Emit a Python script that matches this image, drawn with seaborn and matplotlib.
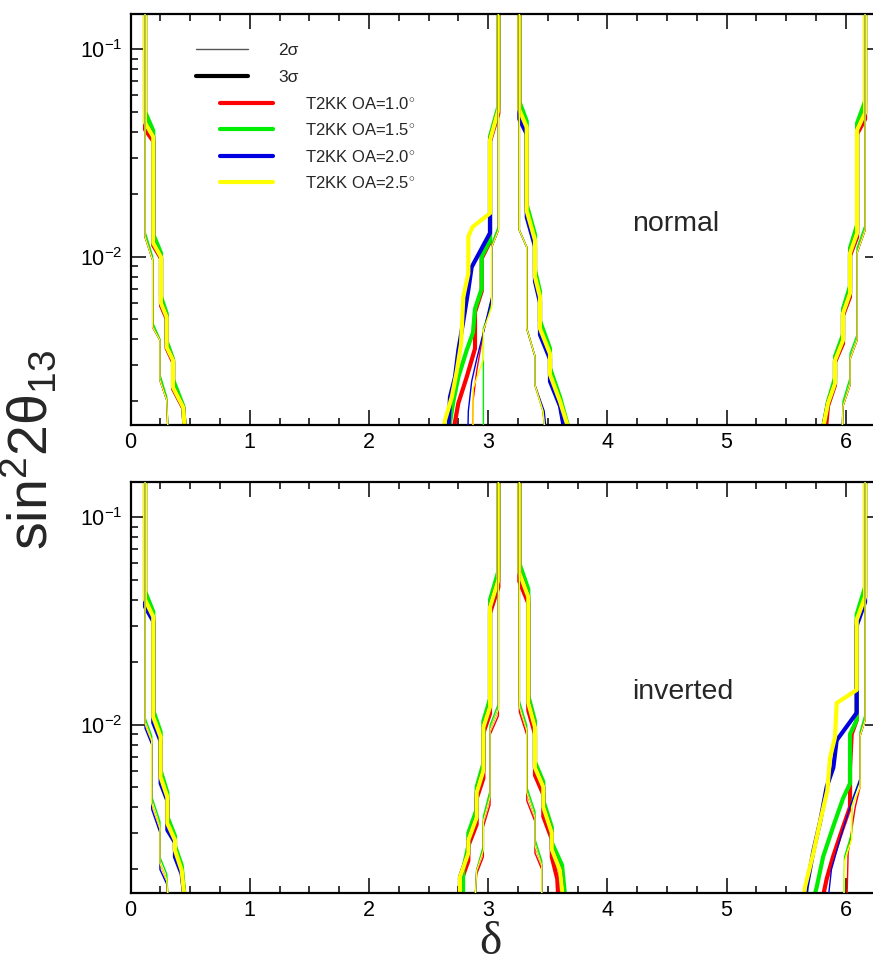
import matplotlib
matplotlib.use("Agg")
import matplotlib.pyplot as plt
import seaborn as sns
from matplotlib.lines import Line2D
from matplotlib.ticker import FixedLocator, MultipleLocator, LogLocator, NullFormatter

# ---------------- data (delta, sin^2 2theta13) ----------------
oa_labels = ["T2KK OA=1.0$^{\\circ}$", "T2KK OA=1.5$^{\\circ}$",
             "T2KK OA=2.0$^{\\circ}$", "T2KK OA=2.5$^{\\circ}$"]
oa_colors = ["#ff0000", "#00ee00", "#0000e0", "#ffff00"]
x_ticks = [0, 1, 2, 3, 4, 5, 6]
y_ticks = [0.01, 0.1]
y_ticklabels = ["$\\mathregular{10^{-2}}$", "$\\mathregular{10^{-1}}$"]

# ---- normal hierarchy: region near delta = 0 ----
nA3_x = [0.122, 0.122, 0.191, 0.191, 0.256, 0.256, 0.304, 0.304, 0.357, 0.357, 0.443, 0.457]
nA3_y = [0.2, 0.0442, 0.0378, 0.01162, 0.00995, 0.00596, 0.0051, 0.00365, 0.00316, 0.00234, 0.00187, 0.0014]
nA3_y_g = [0.2, 0.0500, 0.0405, 0.0128, 0.0104, 0.0064, 0.0053, 0.0039, 0.0032, 0.00255, 0.0019, 0.0014]
nA3_y_r = [0.2, 0.0410, 0.0360, 0.0113, 0.0098, 0.0058, 0.0050, 0.0036, 0.0031, 0.0023, 0.00185, 0.0014]
nA2_x = [0.122, 0.122, 0.186, 0.186, 0.247, 0.247, 0.304, 0.315]
nA2_y = [0.2, 0.01242, 0.00962, 0.00456, 0.00395, 0.00253, 0.00203, 0.0014]
nA2_y_g = [0.2, 0.0132, 0.0100, 0.0048, 0.0040, 0.0027, 0.0021, 0.0014]

# ---- normal: left of delta = pi ----
nB3_x_y = [3.086, 3.086, 3.016, 3.016, 2.870, 2.834, 2.834, 2.792, 2.773, 2.737, 2.695, 2.638, 2.622]
nB3_y_y = [0.2, 0.051, 0.0365, 0.0162, 0.0139, 0.0125, 0.0083, 0.0064, 0.0038, 0.0028, 0.0021, 0.00162, 0.0014]
nB3_x_b = [3.086, 3.086, 3.016, 3.016, 2.862, 2.834, 2.792, 2.750, 2.722, 2.680, 2.666]
nB3_y_b = [0.2, 0.051, 0.0365, 0.0130, 0.0089, 0.0069, 0.0049, 0.00353, 0.00262, 0.0021, 0.0014]
nB3_x_g = [3.086, 3.086, 3.016, 3.016, 2.946, 2.946, 2.890, 2.873, 2.820, 2.750, 2.708, 2.666]
nB3_y_g = [0.2, 0.053, 0.0380, 0.0120, 0.0100, 0.0070, 0.0056, 0.0043, 0.00353, 0.00262, 0.00200, 0.0014]
nB3_x_r = [3.086, 3.086, 3.016, 3.016, 2.946, 2.946, 2.890, 2.890, 2.820, 2.750, 2.705]
nB3_y_r = [0.2, 0.049, 0.0360, 0.0118, 0.0098, 0.0068, 0.0054, 0.0036, 0.00262, 0.00196, 0.0014]
nB2_x_y = [3.086, 3.086, 3.030, 3.030, 2.960, 2.960, 2.873, 2.873]
nB2_y_y = [0.2, 0.0134, 0.0111, 0.0057, 0.0044, 0.0032, 0.0023, 0.0014]
nB2_x_b = [3.086, 3.086, 3.030, 3.030, 2.960, 2.904, 2.862, 2.834, 2.830]
nB2_y_b = [0.2, 0.0134, 0.0111, 0.0064, 0.0043, 0.0032, 0.0025, 0.0018, 0.0014]
nB2_x_g = [3.086, 3.086, 3.030, 3.030, 2.960, 2.960]
nB2_y_g = [0.2, 0.0140, 0.0115, 0.0059, 0.0045, 0.0014]
nB2_x_r = [3.086, 3.086, 3.030, 3.030, 2.960, 2.904, 2.873, 2.870]
nB2_y_r = [0.2, 0.0134, 0.0111, 0.0062, 0.0043, 0.0028, 0.0020, 0.0014]

# ---- normal: right of delta = pi ----
nC3_x = [3.262, 3.262, 3.324, 3.324, 3.393, 3.393, 3.435, 3.435, 3.519, 3.519, 3.603, 3.687]
nC3_y = [0.2, 0.051, 0.042, 0.0166, 0.0120, 0.0080, 0.0064, 0.0045, 0.0034, 0.0027, 0.0020, 0.0014]
nC3_y_g = [0.2, 0.056, 0.045, 0.0178, 0.0128, 0.0086, 0.0068, 0.0049, 0.0036, 0.0029, 0.0021, 0.0014]
nC3_x_b = [3.262, 3.262, 3.324, 3.324, 3.393, 3.393, 3.435, 3.435, 3.519, 3.519, 3.603, 3.645]
nC3_y_b = [0.2, 0.046, 0.039, 0.0155, 0.0112, 0.0076, 0.0060, 0.0042, 0.0032, 0.0025, 0.0019, 0.0014]
nC2_x = [3.262, 3.262, 3.324, 3.324, 3.393, 3.393, 3.460, 3.480]
nC2_y = [0.2, 0.0134, 0.0111, 0.0045, 0.0033, 0.0024, 0.0018, 0.0014]
nC2_x_b = [3.262, 3.262, 3.324, 3.324, 3.393, 3.393, 3.470, 3.490]

# ---- normal: region near delta = 2 pi ----
nD3_x = [6.162, 6.162, 6.095, 6.095, 6.036, 6.036, 5.977, 5.977, 5.910, 5.910, 5.851, 5.801]
nD3_x_r = [6.162, 6.162, 6.095, 6.095, 6.036, 6.036, 5.977, 5.977, 5.910, 5.910, 5.851, 5.830]
nD3_y = [0.2, 0.0494, 0.0409, 0.0130, 0.0104, 0.00667, 0.00533, 0.00395, 0.00316, 0.00245, 0.00196, 0.0014]
nD3_y_g = [0.2, 0.056, 0.044, 0.0142, 0.0110, 0.0072, 0.0056, 0.0042, 0.0033, 0.0026, 0.0020, 0.0014]
nD3_y_r = [0.2, 0.046, 0.039, 0.0124, 0.0101, 0.0064, 0.0052, 0.0038, 0.0031, 0.0024, 0.0019, 0.0014]
nD2_x = [6.162, 6.162, 6.095, 6.095, 6.036, 6.036, 5.977, 5.970]
nD2_y = [0.2, 0.0134, 0.0104, 0.00395, 0.0032, 0.0024, 0.0019, 0.0014]
nD2_y_g = [0.2, 0.0142, 0.0110, 0.0042, 0.0034, 0.0026, 0.0020, 0.0014]

# ---- inverted hierarchy: region near delta = 0 ----
iA3_x = [0.122, 0.122, 0.191, 0.191, 0.253, 0.253, 0.309, 0.309, 0.373, 0.373, 0.429, 0.457]
iA3_y = [0.2, 0.0400, 0.0331, 0.01087, 0.00871, 0.00557, 0.00447, 0.00334, 0.00277, 0.00248, 0.00198, 0.0014]
iA3_y_g = [0.2, 0.0440, 0.0350, 0.0117, 0.0092, 0.0060, 0.0047, 0.0036, 0.0029, 0.0026, 0.0021, 0.0014]
iA3_y_b = [0.2, 0.0370, 0.0315, 0.0102, 0.0083, 0.0052, 0.0043, 0.0031, 0.0027, 0.0023, 0.0019, 0.0014]
iA2_x = [0.122, 0.122, 0.178, 0.178, 0.247, 0.247, 0.304, 0.317]
iA2_y = [0.2, 0.0101, 0.0084, 0.00417, 0.00319, 0.00214, 0.00178, 0.0014]
iA2_y_g = [0.2, 0.0108, 0.0088, 0.0045, 0.0034, 0.0023, 0.0019, 0.0014]
iA2_y_b = [0.2, 0.0096, 0.0080, 0.0039, 0.0030, 0.0020, 0.0017, 0.0014]

# ---- inverted: left of delta = pi ----
iB3_x = [3.086, 3.086, 3.016, 3.016, 2.960, 2.960, 2.904, 2.904, 2.834, 2.834, 2.764, 2.764]
iB3_x_g = [3.086, 3.086, 3.016, 3.016, 2.960, 2.960, 2.904, 2.904, 2.834, 2.834, 2.790, 2.790]
iB3_y = [0.2, 0.0499, 0.0369, 0.0122, 0.0097, 0.0060, 0.0047, 0.00357, 0.00277, 0.0024, 0.00184, 0.0014]
iB3_y_g = [0.2, 0.055, 0.040, 0.0133, 0.0104, 0.0065, 0.0050, 0.0039, 0.0030, 0.0026, 0.0020, 0.0014]
iB3_y_r = [0.2, 0.046, 0.0345, 0.0113, 0.0091, 0.0055, 0.0044, 0.0033, 0.0026, 0.0022, 0.0017, 0.0014]
iB2_x = [3.086, 3.086, 3.016, 3.016, 2.960, 2.960, 2.904, 2.890]
iB2_y = [0.2, 0.0118, 0.0094, 0.00447, 0.00343, 0.00248, 0.00198, 0.0014]
iB2_y_g = [0.2, 0.0126, 0.0099, 0.0048, 0.0036, 0.0026, 0.0020, 0.0014]
iB2_y_r = [0.2, 0.0110, 0.0089, 0.0041, 0.0032, 0.0023, 0.0019, 0.0014]

# ---- inverted: right of delta = pi ----
iC3_x = [3.262, 3.262, 3.337, 3.337, 3.393, 3.393, 3.463, 3.463, 3.534, 3.534, 3.603, 3.631]
iC3_x_g = [3.262, 3.262, 3.337, 3.337, 3.393, 3.393, 3.463, 3.463, 3.534, 3.534, 3.620, 3.650]
iC3_x_r = [3.262, 3.262, 3.337, 3.337, 3.393, 3.393, 3.463, 3.463, 3.534, 3.534, 3.580, 3.590]
iC3_y = [0.2, 0.054, 0.0413, 0.0127, 0.0097, 0.0062, 0.0050, 0.0040, 0.0030, 0.0025, 0.00198, 0.0014]
iC3_y_g = [0.2, 0.060, 0.045, 0.0138, 0.0104, 0.0066, 0.0053, 0.0043, 0.0032, 0.0027, 0.0021, 0.0014]
iC3_y_r = [0.2, 0.049, 0.0385, 0.0117, 0.0090, 0.0057, 0.0046, 0.0036, 0.0028, 0.0023, 0.0018, 0.0014]
iC2_x = [3.262, 3.262, 3.324, 3.324, 3.393, 3.393, 3.450, 3.450]
iC2_y = [0.2, 0.0122, 0.0094, 0.0047, 0.00357, 0.0026, 0.0021, 0.0014]
iC2_y_g = [0.2, 0.0130, 0.0099, 0.0050, 0.0038, 0.0028, 0.0022, 0.0014]
iC2_y_r = [0.2, 0.0115, 0.0089, 0.0043, 0.0034, 0.0024, 0.0020, 0.0014]

# ---- inverted: region near delta = 2 pi ----
iD3_x_y = [6.162, 6.162, 6.092, 6.092, 5.924, 5.910, 5.868, 5.845, 5.785, 5.728, 5.659, 5.644]
iD3_y_y = [0.2, 0.0413, 0.0320, 0.0147, 0.0127, 0.0087, 0.0069, 0.0048, 0.0034, 0.0024, 0.00165, 0.0014]
iD3_x_b = [6.162, 6.162, 6.092, 6.092, 5.924, 5.896, 5.840, 5.785, 5.728, 5.673, 5.659]
iD3_y_b = [0.2, 0.039, 0.030, 0.0114, 0.0084, 0.0062, 0.0050, 0.0034, 0.00245, 0.00165, 0.0014]
iD3_x_g = [6.162, 6.162, 6.092, 6.092, 6.036, 6.036, 5.977, 5.893, 5.810, 5.757, 5.725]
iD3_y_g = [0.2, 0.046, 0.034, 0.0105, 0.0090, 0.0052, 0.0044, 0.0032, 0.0023, 0.00165, 0.0014]
iD3_x_r = [6.162, 6.162, 6.092, 6.092, 6.050, 6.036, 6.036, 5.977, 5.893, 5.840, 5.800]
iD3_y_r = [0.2, 0.0413, 0.0320, 0.0105, 0.0090, 0.0062, 0.0040, 0.0032, 0.0023, 0.0018, 0.0014]
iD2_x = [6.162, 6.162, 6.120, 6.120, 6.050, 6.050, 5.990, 5.985]
iD2_y = [0.2, 0.0105, 0.0088, 0.0050, 0.0040, 0.0028, 0.0022, 0.0014]
iD2_y_g = [0.2, 0.0112, 0.0092, 0.0054, 0.0043, 0.0030, 0.0023, 0.0014]
iD2_x_b = [6.162, 6.162, 6.120, 6.120, 6.036, 5.960, 5.880, 5.850]
iD2_y_b = [0.2, 0.0105, 0.0088, 0.0055, 0.0040, 0.0029, 0.0020, 0.0014]
iD2_x_r = [6.162, 6.162, 6.120, 6.120, 6.080, 6.020, 6.010]
iD2_y_r = [0.2, 0.0105, 0.0088, 0.0050, 0.0040, 0.0024, 0.0014]

# curve table: (panel, colour index 0..3 = OA 1.0..2.5, sigma, x, y)
curves = [
    # normal, near 0
    ("n", 0, 3, nA3_x, nA3_y_r), ("n", 1, 3, nA3_x, nA3_y_g), ("n", 2, 3, nA3_x, nA3_y), ("n", 3, 3, nA3_x, nA3_y),
    ("n", 0, 2, nA2_x, nA2_y), ("n", 1, 2, nA2_x, nA2_y_g), ("n", 2, 2, nA2_x, nA2_y), ("n", 3, 2, nA2_x, nA2_y),
    # normal, left of pi
    ("n", 0, 3, nB3_x_r, nB3_y_r), ("n", 1, 3, nB3_x_g, nB3_y_g), ("n", 2, 3, nB3_x_b, nB3_y_b), ("n", 3, 3, nB3_x_y, nB3_y_y),
    ("n", 0, 2, nB2_x_r, nB2_y_r), ("n", 1, 2, nB2_x_g, nB2_y_g), ("n", 2, 2, nB2_x_b, nB2_y_b), ("n", 3, 2, nB2_x_y, nB2_y_y),
    # normal, right of pi
    ("n", 0, 3, nC3_x_b, nC3_y), ("n", 1, 3, nC3_x, nC3_y_g), ("n", 2, 3, nC3_x_b, nC3_y_b), ("n", 3, 3, nC3_x, nC3_y),
    ("n", 0, 2, nC2_x, nC2_y), ("n", 1, 2, nC2_x, nC2_y), ("n", 2, 2, nC2_x_b, nC2_y), ("n", 3, 2, nC2_x, nC2_y),
    # normal, near 2 pi
    ("n", 0, 3, nD3_x_r, nD3_y_r), ("n", 1, 3, nD3_x, nD3_y_g), ("n", 2, 3, nD3_x, nD3_y), ("n", 3, 3, nD3_x, nD3_y),
    ("n", 0, 2, nD2_x, nD2_y), ("n", 1, 2, nD2_x, nD2_y_g), ("n", 2, 2, nD2_x, nD2_y), ("n", 3, 2, nD2_x, nD2_y),
    # inverted, near 0
    ("i", 0, 3, iA3_x, iA3_y), ("i", 1, 3, iA3_x, iA3_y_g), ("i", 2, 3, iA3_x, iA3_y_b), ("i", 3, 3, iA3_x, iA3_y),
    ("i", 0, 2, iA2_x, iA2_y), ("i", 1, 2, iA2_x, iA2_y_g), ("i", 2, 2, iA2_x, iA2_y_b), ("i", 3, 2, iA2_x, iA2_y),
    # inverted, left of pi
    ("i", 0, 3, iB3_x, iB3_y_r), ("i", 1, 3, iB3_x_g, iB3_y_g), ("i", 2, 3, iB3_x, iB3_y), ("i", 3, 3, iB3_x, iB3_y),
    ("i", 0, 2, iB2_x, iB2_y_r), ("i", 1, 2, iB2_x, iB2_y_g), ("i", 2, 2, iB2_x, iB2_y), ("i", 3, 2, iB2_x, iB2_y),
    # inverted, right of pi
    ("i", 0, 3, iC3_x_r, iC3_y_r), ("i", 1, 3, iC3_x_g, iC3_y_g), ("i", 2, 3, iC3_x, iC3_y), ("i", 3, 3, iC3_x, iC3_y),
    ("i", 0, 2, iC2_x, iC2_y_r), ("i", 1, 2, iC2_x, iC2_y_g), ("i", 2, 2, iC2_x, iC2_y), ("i", 3, 2, iC2_x, iC2_y),
    # inverted, near 2 pi
    ("i", 0, 3, iD3_x_r, iD3_y_r), ("i", 1, 3, iD3_x_g, iD3_y_g), ("i", 2, 3, iD3_x_b, iD3_y_b), ("i", 3, 3, iD3_x_y, iD3_y_y),
    ("i", 0, 2, iD2_x_r, iD2_y_r), ("i", 1, 2, iD2_x, iD2_y_g), ("i", 2, 2, iD2_x_b, iD2_y_b), ("i", 3, 2, iD2_x, iD2_y),
]

# ---------------- style ----------------
sns.set_style("ticks")
plt.rcParams["font.family"] = ["Liberation Sans", "DejaVu Sans"]
plt.rcParams["mathtext.fontset"] = "custom"
plt.rcParams["mathtext.rm"] = "Liberation Sans"
plt.rcParams["mathtext.it"] = "Liberation Sans:italic"
plt.rcParams["mathtext.bf"] = "Liberation Sans:bold"

W, H = 873, 967
fig = plt.figure(figsize=(W / 100, H / 100), dpi=100)


def rect(l, t, r, b):
    return [l / W, 1 - b / H, (r - l) / W, (b - t) / H]


ax_n = fig.add_axes(rect(130.5, 14, 879.5, 425))
ax_i = fig.add_axes(rect(130.5, 482, 879.5, 893))
axes = {"n": ax_n, "i": ax_i}

for ax in axes.values():
    ax.set_yscale("log")
    ax.set_xlim(0, 6.2832)
    ax.set_ylim(0.00154, 0.148)
    ax.xaxis.set_major_locator(FixedLocator(x_ticks))
    ax.set_xticklabels([str(t) for t in x_ticks])
    ax.xaxis.set_minor_locator(MultipleLocator(0.25))
    ax.yaxis.set_major_locator(FixedLocator(y_ticks))
    ax.set_yticklabels(y_ticklabels)
    ax.yaxis.set_minor_locator(LogLocator(base=10, subs=[2, 3, 4, 5, 6, 7, 8, 9]))
    ax.yaxis.set_minor_formatter(NullFormatter())
    ax.tick_params(which="both", direction="in", top=True, right=True, width=1.1, colors="black")
    ax.tick_params(which="major", length=10.5, labelsize=15.5)
    ax.tick_params(axis="x", which="major", pad=5)
    ax.tick_params(axis="y", which="major", pad=6)
    ax.tick_params(which="minor", length=5)
    for s in ax.spines.values():
        s.set_linewidth(1.6)
        s.set_color("black")

for panel, ci, sig, xs, ys in curves:
    if sig == 3:
        sns.lineplot(x=xs, y=ys, sort=False, estimator=None, color=oa_colors[ci],
                     linewidth=3.0, ax=axes[panel], zorder=2 + ci * 0.1)
for panel, ci, sig, xs, ys in curves:
    if sig == 2:
        sns.lineplot(x=xs, y=ys, sort=False, estimator=None, color=oa_colors[ci],
                     linewidth=1.0, ax=axes[panel], zorder=3 + ci * 0.1)

for ax in axes.values():
    ax.set_xlabel("")
    ax.set_ylabel("")

ax_n.text(4.21, 0.01436, "normal", fontsize=20.5, va="center", ha="left")
ax_i.text(4.21, 0.01436, "inverted", fontsize=20.5, va="center", ha="left")

# legends
sig_handles = [Line2D([], [], color="#555555", lw=1.0), Line2D([], [], color="black", lw=3.0)]
leg1 = ax_n.legend(sig_handles, ["2σ", "3σ"], loc="upper left",
                   bbox_to_anchor=((196 - 130.5) / 749, 1 - (43 - 14) / 411),
                   frameon=False, borderpad=0, borderaxespad=0, handlelength=3.0,
                   handletextpad=1.75, labelspacing=0.68, fontsize=12.5)
ax_n.add_artist(leg1)
oa_handles = [Line2D([], [], color=c, lw=3.0) for c in oa_colors]
ax_n.legend(oa_handles, oa_labels, loc="upper left",
            bbox_to_anchor=((220 - 130.5) / 749, 1 - (96 - 14) / 411),
            frameon=False, borderpad=0, borderaxespad=0, handlelength=3.2,
            handletextpad=1.9, labelspacing=0.62, fontsize=12)

fig.text(30 / W, 1 - 450 / H, "sin$^{2}$2θ$_{13}$", rotation=90, fontsize=40,
         ha="center", va="center")
fig.text(490 / W, 1 - 943 / H, "δ", fontsize=34, family=["Liberation Serif", "DejaVu Serif"],
         ha="center", va="center")

fig.savefig("out.png", dpi=100)
